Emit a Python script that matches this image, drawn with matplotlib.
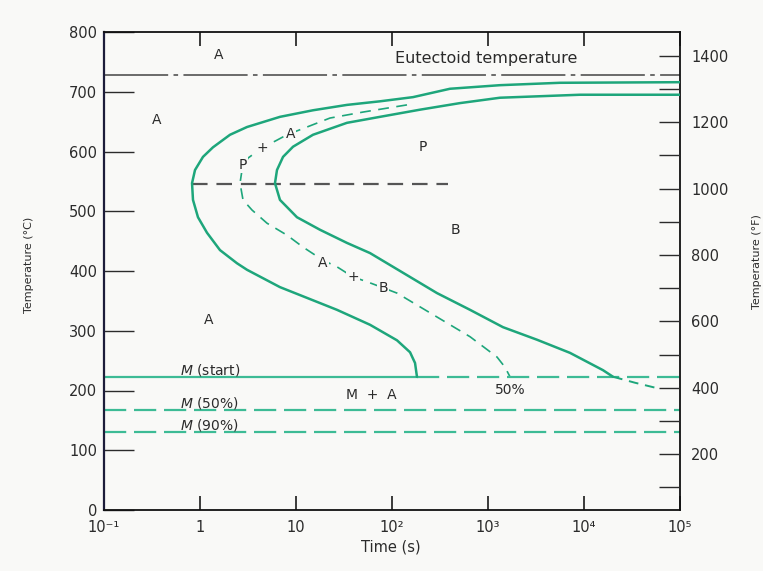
import matplotlib
matplotlib.use("Agg")
import matplotlib.pyplot as plt
import numpy as np

# curves: log10(time / s) and temperature in degC
start_logt = [5.0, 3.75, 3.125, 2.604, 2.219, 1.875, 1.531, 1.177, 0.833, 0.490, 0.3125, 0.135,
              0.031, -0.052, -0.083, -0.073, -0.021, 0.073, 0.208, 0.385, 0.490, 0.833, 1.177,
              1.427, 1.771, 2.052, 2.188, 2.240, 2.260]
start_T = [716, 715, 711, 705, 691, 684, 678, 669, 658, 641, 628, 607,
           591, 569, 547, 519, 490, 464, 435, 413, 402, 373, 351,
           335, 310, 284, 264, 246, 223]

half_logt = [2.156, 1.698, 1.354, 1.115, 0.906, 0.802, 0.646, 0.50, 0.4375, 0.417, 0.448, 0.542,
             0.698, 0.906, 1.073, 1.281, 1.427, 1.594, 1.740, 1.906, 2.052, 2.469, 2.813,
             3.094, 3.177, 3.229]
half_T = [678, 666, 656, 641, 628, 619, 606, 589, 569, 547, 519, 502,
          480, 460, 440, 418, 407, 390, 382, 372, 363, 323, 290,
          256, 239, 223]

finish_logt = [5.0, 3.958, 3.125, 2.708, 2.292, 1.875, 1.531, 1.177, 0.969, 0.865, 0.802, 0.781,
               0.833, 1.010, 1.250, 1.531, 1.771, 2.115, 2.469, 2.813, 3.156, 3.510,
               3.854, 4.198, 4.302]
finish_T = [695, 695, 690, 681, 670, 658, 648, 628, 608, 591, 569, 547,
            519, 490, 469, 447, 430, 397, 363, 335, 306, 285,
            263, 234, 223]
finish_ext_logt = [4.302, 4.531, 4.760]
finish_ext_T = [223, 213, 204]

eutectoid_T = 728
nose_T = 546
nose_logt = [-0.083, 2.583]
ms_T = 222
m50_T = 167
m90_T = 130

xtick_vals = [0.1, 1, 10, 100, 1e3, 1e4, 1e5]
xtick_labels = ["10\u207b\u00b9", "1", "10", "10\u00b2", "10\u00b3", "10\u2074", "10\u2075"]
ytick_C = list(range(0, 801, 100))
ytick_F = list(range(100, 1401, 100))
ytick_F_labels = [str(v) if v % 200 == 0 else "" for v in ytick_F]

bg = "#f9f9f7"
green = "#1ea67b"
lgreen = "#3dbb95"
ink = "#2b2b2b"

fig = plt.figure(figsize=(7.63, 5.71), dpi=100, facecolor=bg)
ax = fig.add_axes([104 / 763, 1 - 510 / 571, 576 / 763, 478 / 571])
ax.set_facecolor(bg)
ax.set_xscale("log")
ax.set_xlim(0.1, 1e5)
ax.set_ylim(0, 800)

# transformation curves
ckw = dict(color=green, solid_joinstyle="round", solid_capstyle="round", zorder=3)
ax.plot(10 ** np.array(start_logt), start_T, lw=1.8, **ckw)
ax.plot(10 ** np.array(finish_logt), finish_T, lw=1.8, **ckw)
ax.plot(10 ** np.array(finish_ext_logt), finish_ext_T, color=green, lw=1.4,
        dashes=(5, 3.5), zorder=3)
ax.plot(10 ** np.array(half_logt), half_T, color=green, lw=1.2, dashes=(6.5, 4.5), zorder=2)

# horizontal reference lines
ax.plot([0.1, 1e5], [eutectoid_T, eutectoid_T], color="#444444", lw=1.1,
        dashes=(42, 3.5, 3, 3.5), zorder=2)
ax.plot(10 ** np.array(nose_logt), [nose_T, nose_T], color="#555555", lw=1.6,
        dashes=(7, 4), zorder=2)
ax.plot([0.1, 10 ** 2.26], [ms_T, ms_T], color=lgreen, lw=1.6, zorder=2)
ax.plot([10 ** 2.26, 1e5], [ms_T, ms_T], color=lgreen, lw=1.6, dashes=(10, 3.5), zorder=2)
ax.plot([0.1, 1e5], [m50_T, m50_T], color=lgreen, lw=1.6, dashes=(10, 3.5), zorder=2)
ax.plot([0.1, 1e5], [m90_T, m90_T], color=lgreen, lw=1.6, dashes=(10, 3.5), zorder=2)

# region labels
box = dict(facecolor=bg, edgecolor="none", pad=0.6)
tkw = dict(color=ink, fontsize=10, ha="center", va="center", zorder=4)
ax.text(10 ** 0.198, 761, "A", **tkw)
ax.text(10 ** -0.448, 653, "A", **tkw)
ax.text(10 ** 0.94, 629, "A", bbox=box, **tkw)
ax.text(10 ** 0.646, 606, "+", bbox=box, **tkw)
ax.text(10 ** 0.448, 577, "P", bbox=box, **tkw)
ax.text(10 ** 2.323, 607, "P", **tkw)
ax.text(10 ** 2.656, 469, "B", **tkw)
ax.text(10 ** 1.281, 414, "A", bbox=box, **tkw)
ax.text(10 ** 1.594, 390, "+", bbox=box, **tkw)
ax.text(10 ** 1.906, 372, "B", bbox=box, **tkw)
ax.text(10 ** 0.094, 318, "A", **tkw)
ax.text(10 ** 1.78, 192, "M  +  A", **tkw)
ax.text(10 ** 3.229, 200, "50%", **tkw)
ax.text(10 ** 2.03, 756, "Eutectoid temperature", color=ink, fontsize=11.5,
        ha="left", va="center")
mkw = dict(color=ink, fontsize=10, ha="left", va="center")
ax.text(10 ** -0.208, 234, "$\\mathit{M}$ (start)", **mkw)
ax.text(10 ** -0.208, 179, "$\\mathit{M}$ (50%)", **mkw)
ax.text(10 ** -0.208, 142, "$\\mathit{M}$ (90%)", **mkw)

# axes and ticks
ax.set_xticks(xtick_vals)
ax.set_xticklabels(xtick_labels)
ax.xaxis.set_minor_locator(matplotlib.ticker.NullLocator())
ax.set_yticks(ytick_C)
ax.tick_params(axis="x", which="major", direction="in", length=10, width=1.3,
               top=True, bottom=True, labelsize=10.5, pad=7, colors=ink)
ax.tick_params(axis="y", which="major", direction="in", length=21.6, width=1.0,
               left=True, right=False, labelsize=10.5, pad=5, colors=ink)
for side in ["top", "right", "bottom"]:
    ax.spines[side].set_linewidth(1.3)
    ax.spines[side].set_color("#111111")
ax.spines["left"].set_linewidth(1.6)
ax.spines["left"].set_color("#1d1d3a")

ax2 = ax.twinx()
ax2.set_ylim(32, 1472)
ax2.set_yticks(ytick_F)
ax2.set_yticklabels(ytick_F_labels)
ax2.tick_params(axis="y", direction="in", length=15, width=1.0, labelsize=10.5, pad=8,
                colors=ink)
for s in ax2.spines.values():
    s.set_visible(False)

fig.text(391 / 763, 1 - 547 / 571, "Time (s)", color=ink, fontsize=10.5,
         ha="center", va="center")
fig.text(29 / 763, 1 - 265 / 571, "Temperature (\u00b0C)", color=ink, fontsize=8,
         rotation=90, ha="center", va="center")
fig.text(757 / 763, 1 - 262 / 571, "Temperature (\u00b0F)", color=ink, fontsize=8,
         rotation=90, ha="center", va="center")

fig.savefig("out.png", dpi=100, facecolor=bg)
